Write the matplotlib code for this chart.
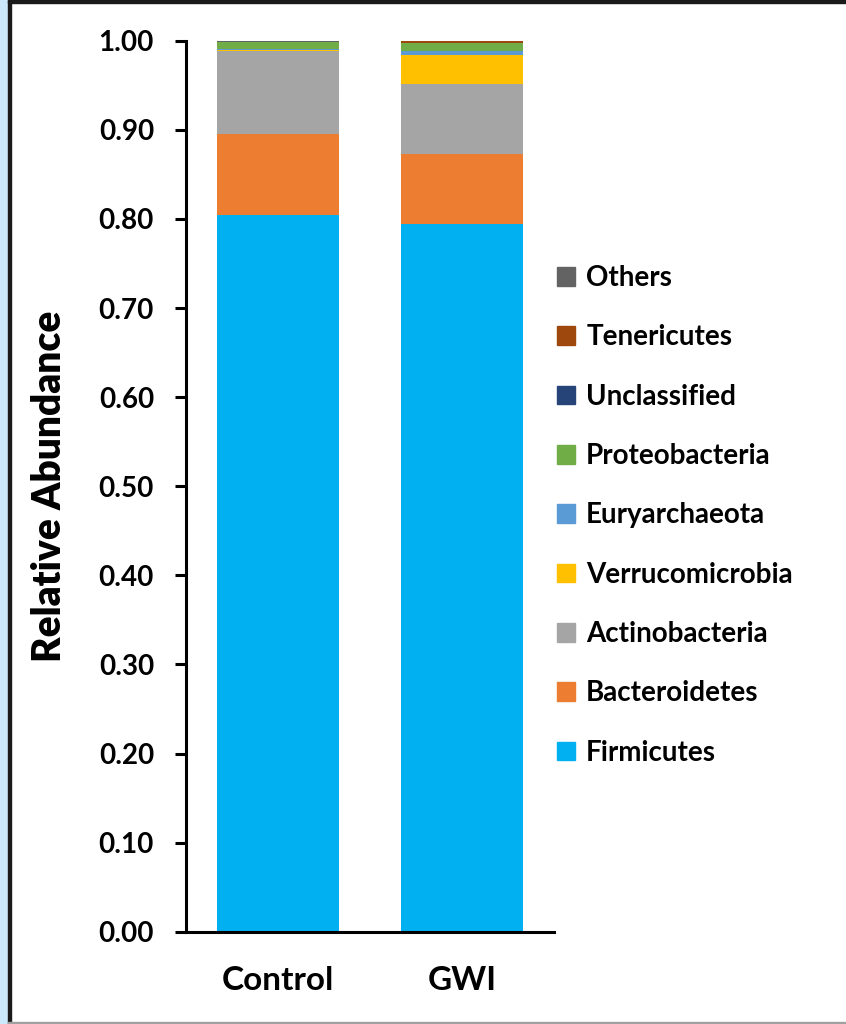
import matplotlib.pyplot as plt
from matplotlib.patches import Rectangle, Patch

# relative abundance of phyla, stacked bottom to top
groups = ["Control", "GWI"]
phyla = ["Firmicutes", "Bacteroidetes", "Actinobacteria", "Verrucomicrobia",
         "Euryarchaeota", "Proteobacteria", "Unclassified", "Tenericutes", "Others"]
firmicutes = [0.804, 0.794]
bacteroidetes = [0.091, 0.079]
actinobacteria = [0.093, 0.078]
verrucomicrobia = [0.002, 0.033]
euryarchaeota = [0.0005, 0.004]
proteobacteria = [0.008, 0.009]
unclassified = [0.0003, 0.0004]
tenericutes = [0.0002, 0.002]
others = [0.001, 0.0006]
colors = ["#00b0f0", "#ed7d31", "#a5a5a5", "#ffc000", "#5b9bd5",
          "#70ad47", "#264478", "#9e480e", "#636363"]

series = [firmicutes, bacteroidetes, actinobacteria, verrucomicrobia,
          euryarchaeota, proteobacteria, unclassified, tenericutes, others]

plt.rcParams['font.family'] = ['Lato', 'DejaVu Sans']
plt.rcParams['font.weight'] = 'bold'

fig = plt.figure(figsize=(8.46, 10.24), dpi=100)
ax = fig.add_axes([186/846, 1 - 931.7/1024, 368/846, 891/1024])

x = range(len(groups))
bottom = [0.0, 0.0]
for vals, c in zip(series, colors):
    ax.bar(x, vals, width=0.66, bottom=bottom, color=c, linewidth=0)
    bottom = [b + v for b, v in zip(bottom, vals)]

ax.set_xlim(-0.5, 1.5)
ax.set_ylim(0, 1.0)
ax.set_yticks([i / 10 for i in range(11)])
ax.set_yticklabels(["%.2f" % (i / 10) for i in range(11)], fontsize=20, fontweight='bold')
ax.set_xticks(list(x))
ax.set_xticklabels(groups, fontsize=24, fontweight='bold')
ax.tick_params(axis='x', length=0, pad=25)
ax.tick_params(axis='y', length=8, width=2.2, pad=15)
for s in ['top', 'right']:
    ax.spines[s].set_visible(False)
for s in ['left', 'bottom']:
    ax.spines[s].set_linewidth(2.2)
ax.set_ylabel("Relative Abundance", fontsize=28, fontweight='heavy', labelpad=22)

handles = [Patch(color=c, label=p) for p, c in zip(phyla, colors)][::-1]
fig.legend(handles=handles, loc='upper left', bbox_to_anchor=(557/846, 1 - 265/1024),
           frameon=False, fontsize=20, handlelength=0.65, handleheight=0.65,
           handletextpad=0.4, labelspacing=1.2, borderpad=0, borderaxespad=0)

# page frame
fig.patches.append(Rectangle((0, 0), 8/846, 1, transform=fig.transFigure,
                             color="#cce8fb", zorder=0))
fig.patches.append(Rectangle((8/846, 0), 2.5/846, 1, transform=fig.transFigure,
                             color="#1a1a1a", zorder=1))
fig.patches.append(Rectangle((8/846, 1 - 3/1024), 1, 3/1024, transform=fig.transFigure,
                             color="#1a1a1a", zorder=1))
fig.patches.append(Rectangle((8/846, 0), 1, 2.5/1024, transform=fig.transFigure,
                             color="#a0a0a0", zorder=1))

fig.savefig("out.png", dpi=100)
